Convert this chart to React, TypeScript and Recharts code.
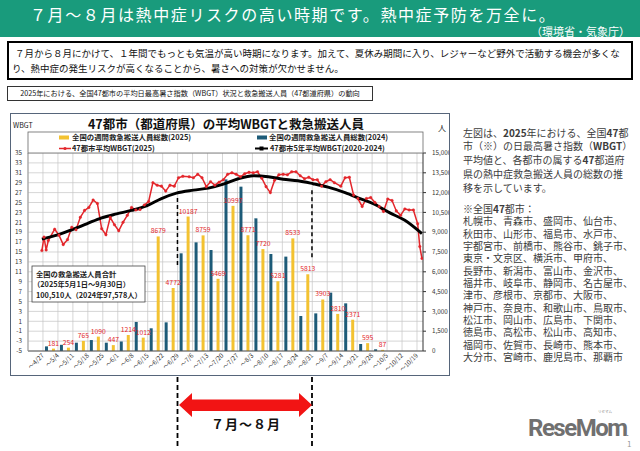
import React from "react";
import {
  Bar,
  CartesianGrid,
  ComposedChart,
  LabelList,
  Line,
  ReferenceLine,
  XAxis,
  YAxis,
} from "recharts";

// weekly categories (Mon-Sun, week ending)
const weeks = [
  "～4/27", "～5/4", "～5/11", "～5/18", "～5/25", "～6/1", "～6/8", "～6/15", "～6/22",
  "～6/29", "～7/6", "～7/13", "～7/20", "～7/27", "～8/3", "～8/10", "～8/17", "～8/24",
  "～8/31", "～9/7", "～9/14", "～9/21", "～9/28", "～10/5", "～10/12", "～10/19",
];

// weekly heatstroke ambulance transports
const rescue2025 = [
  null, 181, 254, 765, 1090, 447, 1214, 1012, 8679, 4772, 10187, 8759, 5469, 10997, 8771,
  7720, 5281, 8533, 5813, 3903, 2810, 2371, 595, 87, null, null,
];
const rescue2024 = [
  null, 350, 470, 630, 830, 630, 720, 2200, 1720, 2170, 7400, 8230, 7650, 13000, 12450,
  10050, 7350, 7150, 2650, 2850, 4420, 3610, 530, 130, null, null,
];

// daily mean WBGT of 47 cities, 2025 (read roughly every other day)
const wbgtDates = [
  "4/27", "4/28", "4/29", "4/30", "5/3", "5/5", "5/7", "5/9", "5/11", "5/13", "5/15", "5/17",
  "5/19", "5/21", "5/23", "5/25", "5/27", "5/29", "5/31", "6/2", "6/4", "6/6", "6/8", "6/10",
  "6/12", "6/14", "6/16", "6/18", "6/20", "6/22", "6/24", "6/26", "6/28", "6/30", "7/2",
  "7/5", "7/7", "7/9", "7/11", "7/13", "7/15", "7/17", "7/19", "7/21", "7/23", "7/25", "7/27",
  "7/29", "7/31", "8/2", "8/4", "8/6", "8/8", "8/10", "8/12", "8/14", "8/16", "8/18", "8/20",
  "8/22", "8/24", "8/26", "8/28", "8/30", "9/1", "9/3", "9/5", "9/7", "9/9", "9/11",
  "9/14", "9/16", "9/18", "9/20", "9/22", "9/24", "9/26", "9/28", "9/30", "10/2", "10/4",
  "10/6", "10/8", "10/10", "10/12", "10/14", "10/16", "10/18", "10/20", "10/21", "10/22",
];
const wbgt2025 = [
  15.3, 18.0, 15.4, 17.3, 19.6, 18.4, 16.5, 17.5, 20, 19.5, 22, 23.4,
  24, 25.5, 24.8, 19.7, 18.5, 22, 20.5, 19.3, 21, 22.4, 24, 23.5,
  23.6, 24.5, 25.2, 29, 28.5, 28.3, 27.3, 28.5, 28.3, 30, 30.3,
  30.2, 30, 30.7, 30, 28.2, 29.2, 28.5, 29.1, 29.6, 30.7, 31, 30.7,
  30.2, 30.8, 31.1, 31, 31.2, 29.9, 28.2, 27.0, 29.5, 30.6, 30.7, 30.6,
  31.2, 31.2, 30.4, 29.8, 30.1, 29.6, 29.6, 28.3, 29.2, 29.6, 29,
  28.3, 30, 30.1, 26.5, 25.8, 24.2, 25.8, 26, 25, 24.2, 23.2,
  25.7, 25.4, 23.3, 22.4, 23.7, 23.5, 23.5, 20.7, 16.1, 13.7,
];

// 5-year average WBGT (2020-2024), read weekly
const avgDates = [
  "4/27", "5/4", "5/11", "5/18", "5/25", "6/1", "6/8", "6/15", "6/22", "6/29", "7/7", "7/14",
  "7/21", "7/28", "8/4", "8/11", "8/18", "8/25", "9/1", "9/8", "9/16", "9/23", "9/30", "10/7",
  "10/14", "10/22",
];
const wbgtAvg = [
  17.6, 18.4, 19.5, 20.7, 21.9, 22.7, 23.4, 24.3, 25.8, 26.9, 27.5, 27.9,
  28.7, 29.8, 30.4, 30.2, 29.7, 29.4, 28.8, 28.1, 27.0, 25.8, 24.6, 22.9,
  21.4, 18.7,
];

const leftTicks = [-5, -3, -1, 1, 3, 5, 7, 9, 11, 13, 15, 17, 19, 21, 23, 25, 27, 29, 31, 33, 35];
const rightTicks = [0, 1500, 3000, 4500, 6000, 7500, 9000, 10500, 12000, 13500, 15000];

// dashed markers for the Jul-Aug period
const seasonMarks = [
  { date: "6/30", top: 25.9, bottom: 12 },
  { date: "9/1", top: 27.5, bottom: 13.8 },
];

const YELLOW = "#f3c231";
const TEAL = "#1d5b78";
const RED = "#e3262b";
const CAT_PAD = 6;
const JP = "'Noto Sans CJK JP', 'Noto Sans', sans-serif";

const dayOf = (md: string) => {
  const [m, d] = md.split("/").map(Number);
  return (Date.UTC(2025, m - 1, d) - Date.UTC(2025, 3, 21)) / 86400000;
};

const weekData = weeks.map((w, i) => ({ week: w, y2024: rescue2024[i], y2025: rescue2025[i] }));
const wbgtData = wbgtDates.map((d, i) => ({ day: dayOf(d) + 0.5, v: wbgt2025[i] }));
const avgData = avgDates.map((d, i) => ({ day: dayOf(d) + 0.5, v: wbgtAvg[i] }));

const weekBounds = ({ offset }: any) => {
  const w = (offset.width - CAT_PAD) / weeks.length;
  const out: number[] = [];
  for (let i = 0; i <= weeks.length; i++) out.push(offset.left + w * i);
  return out;
};

const WeekTick = (props: any) => {
  const { x, y, payload } = props;
  return (
    <g transform={`translate(${x + 9},${y + 5})`}>
      <text transform="rotate(-45)" textAnchor="end" fontSize={6.3} fill="#333">
        {payload.value}
      </text>
    </g>
  );
};

const HeatChart = () => (
  <ComposedChart
    width={440}
    height={263}
    data={weekData}
    margin={{ top: 40, right: 0, bottom: 0, left: 0 }}
    style={{ fontFamily: JP }}
  >
    <CartesianGrid
      xAxisId="wk"
      yAxisId="left"
      stroke="#c4c4c4"
      strokeWidth={0.7}
      verticalCoordinatesGenerator={weekBounds}
    />
    <XAxis
      xAxisId="wk"
      dataKey="week"
      interval={0}
      padding={{ left: 0, right: CAT_PAD }}
      height={25}
      tickLine={false}
      tickSize={0}
      tickMargin={0}
      axisLine={{ stroke: "#555" }}
      tick={<WeekTick />}
    />
    <XAxis
      xAxisId="day"
      type="number"
      dataKey="day"
      domain={[0, 185]}
      height={0}
      hide
      allowDataOverflow
    />
    <YAxis
      yAxisId="left"
      domain={[-5, 35]}
      ticks={leftTicks}
      width={18}
      interval={0}
      tickLine={false}
      tickSize={3}
      tickMargin={3}
      axisLine={{ stroke: "#999" }}
      tick={{ fontSize: 6.3, fill: "#333" }}
    />
    <YAxis
      yAxisId="right"
      orientation="right"
      domain={[0, 15000]}
      ticks={rightTicks}
      width={27}
      interval={0}
      tickSize={3}
      tickMargin={6}
      axisLine={{ stroke: "#333" }}
      tickLine={{ stroke: "#333" }}
      tick={{ fontSize: 6.3, fill: "#333" }}
      tickFormatter={(v: number) => v.toLocaleString("en-US")}
    />
    <Bar xAxisId="wk" yAxisId="right" dataKey="y2024" fill={TEAL} barSize={3} isAnimationActive={false} />
    <Bar xAxisId="wk" yAxisId="right" dataKey="y2025" fill={YELLOW} barSize={3} isAnimationActive={false}>
      <LabelList
        dataKey="y2025"
        position="top"
        offset={3}
        fill={RED}
        fontSize={6.8}
        formatter={(v: any) => (v == null ? "" : v)}
      />
    </Bar>
    <Line
      xAxisId="day"
      yAxisId="left"
      data={wbgtData}
      dataKey="v"
      type="linear"
      stroke={RED}
      strokeWidth={1.5}
      dot={{ r: 1.3, fill: RED, stroke: RED, strokeWidth: 0.4 }}
      isAnimationActive={false}
    />
    <Line
      xAxisId="day"
      yAxisId="left"
      data={avgData}
      dataKey="v"
      type="monotone"
      stroke="#000"
      strokeWidth={3}
      dot={false}
      isAnimationActive={false}
    />
    {seasonMarks.map((m) => (
      <ReferenceLine
        key={m.date}
        xAxisId="day"
        yAxisId="left"
        segment={[
          { x: dayOf(m.date), y: m.top },
          { x: dayOf(m.date), y: m.bottom },
        ]}
        stroke="#000"
        strokeWidth={1.5}
        strokeDasharray="4 3"
      />
    ))}
  </ComposedChart>
);

const cities = [
  "札幌市、青森市、盛岡市、仙台市、",
  "秋田市、山形市、福島市、水戸市、",
  "宇都宮市、前橋市、熊谷市、銚子市、",
  "東京・文京区、横浜市、甲府市、",
  "長野市、新潟市、富山市、金沢市、",
  "福井市、岐阜市、静岡市、名古屋市、",
  "津市、彦根市、京都市、大阪市、",
  "神戸市、奈良市、和歌山市、鳥取市、",
  "松江市、岡山市、広島市、下関市、",
  "徳島市、高松市、松山市、高知市、",
  "福岡市、佐賀市、長崎市、熊本市、",
  "大分市、宮崎市、鹿児島市、那覇市",
];

const abs = (s: React.CSSProperties): React.CSSProperties => ({ position: "absolute", ...s });

export default function App() {
  return (
    <div style={abs({ left: 0, top: 0, width: 640, height: 451, background: "#fff", overflow: "hidden", fontFamily: JP })}>
      <div style={abs({ left: 0, top: 0, width: 640, height: 37, background: "#199b7c" })} />
      <div style={abs({ left: 30, top: 4, fontSize: 16, letterSpacing: 1.6, lineHeight: "20px", color: "#fff", whiteSpace: "nowrap" })}>
        ７月～８月は熱中症リスクの高い時期です。熱中症予防を万全に。
      </div>
      <div style={abs({ right: 10, top: 25, fontSize: 11, lineHeight: "12px", color: "#fff", whiteSpace: "nowrap" })}>
        （環境省・気象庁）
      </div>

      <div style={abs({ left: 7, top: 41, width: 626, height: 39, border: "2px solid #000", boxSizing: "border-box", fontSize: 9.5, lineHeight: "14.5px", color: "#111", padding: "3px 0 0 3px", whiteSpace: "nowrap" })}>
        <span style={{ paddingLeft: 3 }}>７月から８月にかけて、１年間でもっとも気温が高い時期になります。加えて、夏休み期間に入り、レジャーなど野外で活動する機会が多くな</span>
        <br />
        り、熱中症の発生リスクが高くなることから、暑さへの対策が欠かせません。
      </div>

      <div style={abs({ left: 7, top: 86, width: 366, height: 15, border: "1px solid #333", boxSizing: "border-box", fontSize: 7.2, lineHeight: "13px", textAlign: "center", color: "#111", whiteSpace: "nowrap" })}>
        2025年における、全国47都市の平均日最高暑さ指数（WBGT）状況と救急搬送人員（47都道府県）の動向
      </div>

      <div style={abs({ left: 10, top: 113 })}>
        <HeatChart />
      </div>
      <div style={abs({ left: 10, top: 113, width: 440, height: 263, border: "1.5px solid #56657a", boxSizing: "border-box" })} />

      <svg width={640} height={451} style={abs({ left: 0, top: 0 })} fontFamily={JP}>
        <text x={226} y={129} textAnchor="middle" fontSize={12.5} fontWeight="bold" fill="#111">
          47都市（都道府県）の平均WBGTと救急搬送人員
        </text>
        <text x={13} y={128} fontSize={7} fill="#222">WBGT</text>
        <text x={438} y={131} fontSize={8} fill="#222">人</text>

        <rect x={28} y={132} width={395} height={21} fill="#fff" stroke="#666" strokeWidth={0.8} />
        <rect x={59} y={135.5} width={10} height={4} fill={YELLOW} />
        <text x={72} y={140} fontSize={7.4} fontWeight="bold" fill="#222">全国の週間救急搬送人員総数(2025)</text>
        <rect x={257} y={135.5} width={10} height={4} fill={TEAL} />
        <text x={269} y={140} fontSize={7.4} fontWeight="bold" fill="#222">全国の週間救急搬送人員総数(2024)</text>
        <line x1={59} x2={71} y1={148.5} y2={148.5} stroke={RED} strokeWidth={1.5} />
        <circle cx={65} cy={148.5} r={1.6} fill={RED} />
        <text x={72} y={151} fontSize={7.4} fontWeight="bold" fill="#222">47都市平均WBGT(2025)</text>
        <line x1={255} x2={268} y1={148.5} y2={148.5} stroke="#000" strokeWidth={2} />
        <rect x={259.5} y={146.5} width={4} height={4} fill="#000" />
        <text x={270} y={151} fontSize={7.4} fontWeight="bold" fill="#222">47都市5年平均WBGT(2020-2024)</text>

        <rect x={32} y={266} width={113} height={36} fill="#fff" stroke="#444" strokeWidth={0.8} />
        <text x={36} y={276.5} fontSize={7.3} fontWeight="bold" fill="#222">全国の救急搬送人員合計</text>
        <text x={33} y={287} fontSize={7.3} fontWeight="bold" fill="#222">（2025年5月1日～9月30日）</text>
        <text x={36} y={297.5} fontSize={7.3} fontWeight="bold" fill="#222">100,510人（2024年97,578人）</text>

        <line x1={177.5} x2={177.5} y1={377} y2={446} stroke="#000" strokeWidth={1.8} strokeDasharray="5 3" />
        <line x1={312} x2={312} y1={377} y2={446} stroke="#000" strokeWidth={1.8} strokeDasharray="5 3" />
        <polygon
          points="179,405 192,393 192,399.5 299,399.5 299,393 312,405 299,417 299,411 192,411 192,417"
          fill="#f21414"
        />
        <text x={246} y={429} textAnchor="middle" fontSize={13} fontWeight="bold" letterSpacing={1} fill="#111">
          ７月～８月
        </text>

        <text x={528} y={436} fontSize={24} fontWeight="bold" fontFamily="Roboto" letterSpacing={-1.5} fill="#707070">
          ReseMom<tspan fontSize={8}>.</tspan>
        </text>
        <text x={598} y={413} fontSize={3.5} fill="#888">リセマム</text>
        <text x={627} y={447} fontSize={8} fill="#999">1</text>
      </svg>

      <div style={abs({ left: 463, top: 125.5, fontSize: 10, lineHeight: "13.8px", color: "#3c3c3c", whiteSpace: "nowrap" })}>
        左図は、<b>2025</b>年における、全国<b>47</b>都
        <br />
        市（※）の日最高暑さ指数（<b>WBGT</b>）
        <br />
        平均値と、各都市の属する<b>47</b>都道府
        <br />
        県の熱中症救急搬送人員の総数の推
        <br />
        移を示しています。
      </div>
      <div style={abs({ left: 463, top: 203, fontSize: 10, lineHeight: "12.35px", color: "#3c3c3c", whiteSpace: "nowrap" })}>
        ※全国<b>47</b>都市：
        {cities.map((c) => (
          <div key={c}>{c}</div>
        ))}
      </div>
    </div>
  );
}
